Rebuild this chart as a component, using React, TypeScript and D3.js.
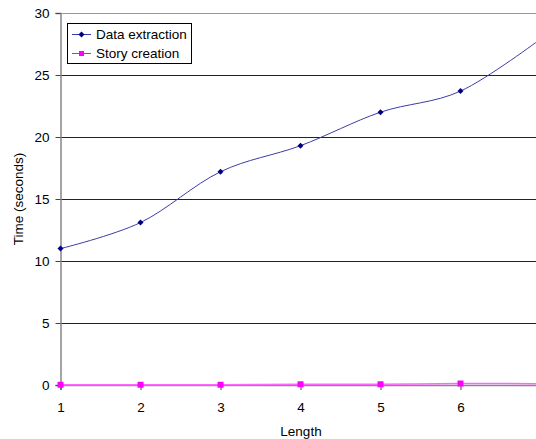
import React, { useRef, useEffect } from 'react';
import * as d3 from 'd3';

const lengths = [1, 2, 3, 4, 5, 6, 7];
const dataExtraction = [11.0, 13.1, 17.2, 19.3, 22.0, 23.7, 27.9];
const storyCreation = [0.02, 0.02, 0.02, 0.06, 0.06, 0.12, 0.1];
const yTicks = [0, 5, 10, 15, 20, 25, 30];
const xTicks = [1, 2, 3, 4, 5, 6];

const App = () => {
  const svgRef = useRef<SVGSVGElement>(null);

  useEffect(() => {
    const width = 536;
    const height = 439;
    const svg = d3.select(svgRef.current);
    svg.selectAll('*').remove();
    svg.attr('width', width).attr('height', height);

    const font = 'Liberation Sans, Arial, sans-serif';
    const fs = 13.5;

    const x = d3.scaleLinear().domain([1, 7]).range([60.5, 540.5]);
    const y = d3.scaleLinear().domain([0, 30]).range([385, 13]);

    // plot border (top)
    svg
      .append('line')
      .attr('x1', x(1))
      .attr('x2', width)
      .attr('y1', y(30) + 0.5)
      .attr('y2', y(30) + 0.5)
      .attr('stroke', '#999');

    // gridlines
    svg
      .append('g')
      .selectAll('line')
      .data(yTicks.filter(d => d > 0 && d < 30))
      .enter()
      .append('line')
      .attr('x1', x(1))
      .attr('x2', width)
      .attr('y1', d => Math.round(y(d)) + 0.5)
      .attr('y2', d => Math.round(y(d)) + 0.5)
      .attr('stroke', '#222');

    // y axis
    const yAxis = d3
      .axisLeft(y)
      .tickValues(yTicks)
      .tickSize(5)
      .tickPadding(6)
      .tickFormat(d3.format('d'));
    const gy = svg.append('g').attr('transform', `translate(${x(1)},0)`).call(yAxis);
    gy.select('.domain').attr('stroke', '#888').attr('stroke-width', 1.5);
    gy.selectAll('.tick line').attr('stroke', '#444');
    gy.selectAll('text').attr('font-family', font).attr('font-size', fs).attr('fill', '#000');

    // x axis
    const xAxis = d3
      .axisBottom(x)
      .tickValues(xTicks)
      .tickSize(5)
      .tickPadding(12)
      .tickFormat(d3.format('d'));
    const gx = svg.append('g').attr('transform', `translate(0,${y(0)})`).call(xAxis);
    gx.select('.domain').attr('stroke', '#888').attr('stroke-width', 1.5);
    gx.selectAll('.tick line').attr('stroke', '#444');
    gx.selectAll('text').attr('font-family', font).attr('font-size', fs).attr('fill', '#000');

    const line = d3
      .line<number>()
      .x((d, i) => x(lengths[i]))
      .y(d => y(d))
      .curve(d3.curveCardinal.tension(0));

    // story creation
    svg
      .append('path')
      .attr('d', line(storyCreation))
      .attr('fill', 'none')
      .attr('stroke', '#ff66ff')
      .attr('stroke-width', 1.5);
    svg
      .append('g')
      .selectAll('rect')
      .data(storyCreation)
      .enter()
      .append('rect')
      .attr('x', (d, i) => x(lengths[i]) - 3)
      .attr('y', d => y(d) - 3)
      .attr('width', 6)
      .attr('height', 6)
      .attr('fill', '#ff00ff');

    // data extraction
    svg
      .append('path')
      .attr('d', line(dataExtraction))
      .attr('fill', 'none')
      .attr('stroke', '#3c3ca8')
      .attr('stroke-width', 1);
    const diamond = d3.symbol().type(d3.symbolSquare).size(18);
    svg
      .append('g')
      .selectAll('path')
      .data(dataExtraction)
      .enter()
      .append('path')
      .attr('d', diamond)
      .attr('transform', (d, i) => `translate(${x(lengths[i])},${y(d)}) rotate(45)`)
      .attr('fill', '#000080');

    // legend
    const lg = svg.append('g');
    lg.append('rect')
      .attr('x', 67.5)
      .attr('y', 23.5)
      .attr('width', 124)
      .attr('height', 40)
      .attr('fill', '#fff')
      .attr('stroke', '#000');
    const entries = [
      { name: 'Data extraction', color: '#000080', stroke: '#3c3ca8', shape: 'diamond' },
      { name: 'Story creation', color: '#ff00ff', stroke: '#ff00ff', shape: 'square' }
    ];
    entries.forEach((e, i) => {
      const cy = 34 + i * 19;
      lg.append('line')
        .attr('x1', 72)
        .attr('x2', 91)
        .attr('y1', cy + 0.5)
        .attr('y2', cy + 0.5)
        .attr('stroke', e.stroke);
      if (e.shape === 'diamond') {
        lg.append('path')
          .attr('d', diamond)
          .attr('transform', `translate(81.5,${cy + 0.5}) rotate(45)`)
          .attr('fill', e.color);
      } else {
        lg.append('rect')
          .attr('x', 79)
          .attr('y', cy - 2)
          .attr('width', 5)
          .attr('height', 5)
          .attr('fill', e.color);
      }
      lg.append('text')
        .attr('x', 96)
        .attr('y', cy + 5)
        .attr('font-family', font)
        .attr('font-size', fs)
        .text(e.name);
    });

    // axis titles
    svg
      .append('text')
      .attr('x', 301)
      .attr('y', 436)
      .attr('text-anchor', 'middle')
      .attr('font-family', font)
      .attr('font-size', fs)
      .text('Length');
    svg
      .append('text')
      .attr('transform', `translate(23,199) rotate(-90)`)
      .attr('text-anchor', 'middle')
      .attr('font-family', font)
      .attr('font-size', fs)
      .text('Time (seconds)');
  }, []);

  return (
    <div style={{ position: 'absolute', left: 0, top: 0, width: 536, height: 439, background: '#fff' }}>
      <svg ref={svgRef} style={{ display: 'block' }}></svg>
    </div>
  );
};

export default App;
